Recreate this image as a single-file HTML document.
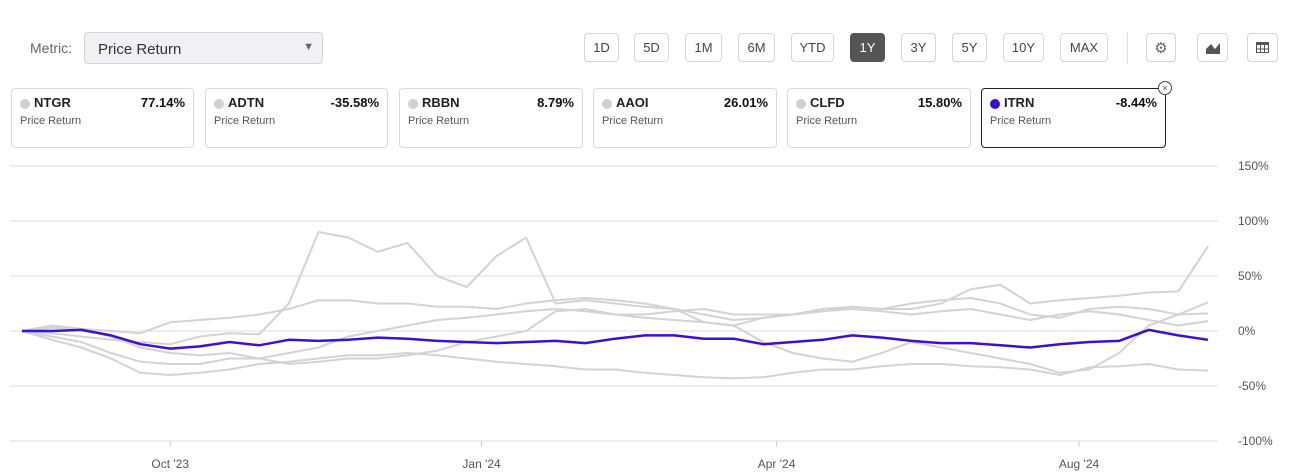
<!DOCTYPE html>
<html><head><meta charset="utf-8"><style>
body{margin:0;width:1289px;height:476px;background:#fff;font-family:"Liberation Sans",sans-serif;position:relative;overflow:hidden;color:#333}
.abs{position:absolute}
.btn{position:absolute;top:33px;height:29px;border:1px solid #d6d6d6;border-radius:4px;box-sizing:border-box;font-size:13px;color:#444;display:flex;align-items:center;justify-content:center;background:#fff}
.card{position:absolute;top:88px;height:60px;border:1px solid #d9d9d9;border-radius:4px;box-sizing:border-box}
.card .t{position:absolute;left:22px;top:6px;font-size:13px;font-weight:bold;color:#222}
.card .d{position:absolute;left:8px;top:10px;width:10px;height:10px;border-radius:50%;background:#d0d0d0}
.card .v{position:absolute;right:8px;top:6px;font-size:13px;font-weight:bold;color:#111}
.card .s{position:absolute;left:8px;top:26px;font-size:11px;color:#555}
</style></head><body>
<div class="abs" style="left:30px;top:40px;font-size:14px;color:#666">Metric:</div>
<div class="abs" style="left:84px;top:32px;width:239px;height:32px;box-sizing:border-box;border:1px solid #d6d6d6;border-radius:4px;background:#f0f1f5;font-size:15px;color:#333;padding:8px 13px">Price Return<span style="position:absolute;right:8px;top:8px;font-size:11px;color:#666">▼</span></div>
<div class="btn" style="left:584px;width:35px">1D</div>
<div class="btn" style="left:634px;width:35px">5D</div>
<div class="btn" style="left:685px;width:37px">1M</div>
<div class="btn" style="left:738px;width:37px">6M</div>
<div class="btn" style="left:791px;width:43px">YTD</div>
<div class="btn" style="left:850px;width:35px;background:#555;color:#fff;border-color:#555">1Y</div>
<div class="btn" style="left:901px;width:35px">3Y</div>
<div class="btn" style="left:952px;width:35px">5Y</div>
<div class="btn" style="left:1003px;width:41px">10Y</div>
<div class="btn" style="left:1060px;width:48px">MAX</div>
<div class="abs" style="left:1127px;top:32px;width:1px;height:32px;background:#ddd"></div>
<div class="btn" style="left:1146px;width:30px;font-size:15px;color:#666">⚙</div>
<div class="btn" style="left:1197px;width:31px"><svg width="14" height="12"><path d="M0 12 L0 7 L5 2 L9 7 L14 1 L14 12Z" fill="#555"/></svg></div>
<div class="btn" style="left:1247px;width:31px"><svg width="13" height="11"><rect x="0.5" y="0.5" width="12" height="10" fill="none" stroke="#555"/><rect x="0" y="0" width="13" height="3" fill="#555"/><path d="M4.5 3V11M8.5 3V11M0 7H13" stroke="#555"/></svg></div>

<div class="card" style="left:11px;width:183px"><div class="d"></div><div class="t">NTGR</div><div class="v">77.14%</div><div class="s">Price Return</div></div>
<div class="card" style="left:205px;width:183px"><div class="d"></div><div class="t">ADTN</div><div class="v">-35.58%</div><div class="s">Price Return</div></div>
<div class="card" style="left:399px;width:184px"><div class="d"></div><div class="t">RBBN</div><div class="v">8.79%</div><div class="s">Price Return</div></div>
<div class="card" style="left:593px;width:184px"><div class="d"></div><div class="t">AAOI</div><div class="v">26.01%</div><div class="s">Price Return</div></div>
<div class="card" style="left:787px;width:184px"><div class="d"></div><div class="t">CLFD</div><div class="v">15.80%</div><div class="s">Price Return</div></div>
<div class="card" style="left:981px;width:185px;border-color:#222"><div class="d" style="background:#3a0fd8"></div><div class="t">ITRN</div><div class="v">-8.44%</div><div class="s">Price Return</div></div>
<div class="abs" style="left:1158px;top:81px;width:12px;height:12px;border:1px solid #444;border-radius:50%;background:#fff;font-size:9px;line-height:12px;text-align:center;color:#444">×</div>

<svg id="chart" class="abs" style="left:0;top:0" width="1289" height="476"></svg>
<script>
const yTicks=[150,100,50,0,-50,-100];
const xLabels=["Oct '23","Jan '24","Apr '24","Aug '24"];
const xLabelIdx=[5.0,15.5,25.45,35.65];
const ntgr=[0,-2,-5,-8,-10,-12,-5,-2,-3,25,90,85,72,80,50,40,68,85,25,28,25,22,20,8,5,12,15,18,22,20,20,25,38,42,25,28,30,32,35,36,77];
const adtn=[0,-8,-15,-25,-38,-40,-38,-35,-30,-28,-25,-22,-22,-20,-22,-25,-28,-30,-32,-35,-35,-38,-40,-42,-43,-42,-38,-35,-35,-32,-30,-30,-32,-33,-35,-40,-33,-32,-30,-35,-36];
const rbbn=[0,-5,-10,-20,-28,-30,-30,-25,-25,-20,-15,-5,0,5,10,12,15,18,20,18,15,15,18,20,15,15,15,18,20,18,15,18,20,15,10,15,18,15,10,5,9];
const aaoi=[0,3,2,-5,-15,-20,-22,-20,-25,-30,-28,-25,-25,-22,-18,-10,-5,0,18,20,15,12,10,8,5,-10,-20,-25,-28,-20,-10,-15,-20,-25,-30,-38,-35,-20,5,15,26];
const clfd=[0,5,2,0,-2,8,10,12,15,20,28,28,25,25,22,22,20,25,28,30,28,25,20,15,10,12,15,20,22,20,25,28,30,25,15,12,20,22,20,15,16];
const itrn=[0,0,1,-4,-12,-16,-14,-10,-13,-8,-9,-8,-6,-7,-9,-10,-11,-10,-9,-11,-7,-4,-4,-7,-7,-12,-10,-8,-4,-6,-9,-11,-11,-13,-15,-12,-10,-9,1,-4,-8];
const svg=document.getElementById('chart');const NS='http://www.w3.org/2000/svg';
const N=itrn.length;
function X(i){return 22+i*(1208-22)/(N-1);}
function Y(v){return 331-v*1.1;}
function mk(t,a){const e=document.createElementNS(NS,t);for(const k in a)e.setAttribute(k,a[k]);svg.appendChild(e);return e;}
yTicks.forEach(v=>{
const l=mk('line',{x1:10,x2:1218,y1:Y(v),y2:Y(v),stroke:'#dcdcdc','stroke-width':1});


const t=mk('text',{x:1238,y:Y(v)+4,'font-size':12,fill:'#555','font-family':'Liberation Sans, sans-serif'});t.textContent=v+'%';


});
xLabels.forEach((s,k)=>{const x=X(xLabelIdx[k]);
const tk=mk('line',{x1:x,x2:x,y1:441,y2:447,stroke:'#ccc'});


const t=mk('text',{x:x,y:468,'font-size':12,fill:'#555','text-anchor':'middle','font-family':'Liberation Sans, sans-serif'});t.textContent=s;


});
function line(d,c,w,name){const p=mk('polyline',{points:d.map((v,i)=>X(i)+','+Y(v)).join(' '),fill:'none',stroke:c,'stroke-width':w,'stroke-linejoin':'round'});

}
line(ntgr,'#d3d3d3',2,'line-ntgr');line(adtn,'#d3d3d3',2,'line-adtn');line(rbbn,'#d3d3d3',2,'line-rbbn');
line(aaoi,'#d3d3d3',2,'line-aaoi');line(clfd,'#d3d3d3',2,'line-clfd');line(itrn,'#3a0fd8',2.5,'line-itrn');
</script>
</body></html>
